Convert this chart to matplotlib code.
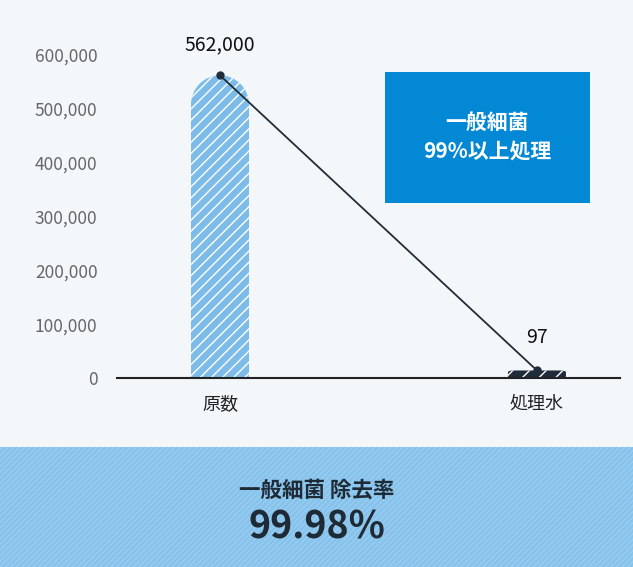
import matplotlib.pyplot as plt
from matplotlib.patches import Ellipse, Rectangle, FancyBboxPatch
import numpy as np

plt.rcParams['font.family'] = ['Noto Sans CJK JP', 'DejaVu Sans']
plt.rcParams['hatch.linewidth'] = 1.0

categories = ['原数', '処理水']
values = [562000, 97]
value_labels = ['562,000', '97']
yticks = [0, 100000, 200000, 300000, 400000, 500000, 600000]
ytick_labels = ['0', '100,000', '200,000', '300,000', '400,000', '500,000', '600,000']
box_text = '一般細菌\n99%以上処理'
rate_title = '一般細菌 除去率'
rate_value = '99.98%'

bg = '#f3f7fa'
blue = '#7dbce8'
dark = '#1f2d3a'

fig = plt.figure(figsize=(6.33, 5.67), dpi=100, facecolor=bg)
W, H = 633, 567

ax = fig.add_axes([117 / W, 1 - 378 / H, (620 - 117) / W, (378 - 28) / H])
ax.set_facecolor('none')
ax.set_xlim(-0.325, 1.262)
ax.set_ylim(0, 650000)
for s in ['top', 'right', 'left']:
    ax.spines[s].set_visible(False)
ax.spines['bottom'].set_color('#222222')
ax.spines['bottom'].set_linewidth(1.5)
ax.set_yticks(yticks)
ax.set_yticklabels(ytick_labels, color='#666666', fontsize=12.5)
ax.set_xticks(range(len(categories)))
ax.set_xticklabels(categories, fontsize=13, color='#222222')
ax.tick_params(length=0)
ax.tick_params(axis='y', pad=14)
ax.tick_params(axis='x', pad=12)

bw = 0.183
x = np.arange(len(values))
# first bar with rounded top
cap_h = 29 / 53.8 * 100000
ax.add_patch(Rectangle((x[0] - bw / 2, 0), bw, values[0] - cap_h,
                       facecolor=blue, edgecolor='white', lw=0, hatch='///'))
ax.add_patch(Ellipse((x[0], values[0] - cap_h), bw, cap_h * 2,
                     facecolor=blue, edgecolor='white', lw=0, hatch='///'))

# second bar: too small to see at scale, shown with minimum height
shown = [values[0], max(values[1], 14000)]
ax.add_patch(FancyBboxPatch((x[1] - bw / 2, 0), bw, shown[1],
                            boxstyle='round,pad=0,rounding_size=0.02',
                            mutation_aspect=100000 / 0.6,
                            facecolor=dark, edgecolor='white', lw=0, hatch='//'))

ax.plot(x, shown, color=dark, lw=1.3, marker='o', ms=5, zorder=5)
ax.annotate(value_labels[0], (x[0], shown[0]), xytext=(0, 18), textcoords='offset points',
            ha='center', fontsize=14, color='#111111')
ax.annotate(value_labels[1], (x[1], shown[1]), xytext=(0, 20), textcoords='offset points',
            ha='center', fontsize=14, color='#111111')

# blue box
fig.patches.append(Rectangle((385 / W, 1 - 203 / H), 205 / W, 131 / H,
                             transform=fig.transFigure, facecolor='#0288d4', lw=0))
fig.text(487 / W, 1 - 137 / H, box_text, ha='center', va='center', color='white',
         fontsize=15, fontweight='bold', linespacing=1.45)

# bottom band
fig.patches.append(Rectangle((0, 0), 1, 120 / H, transform=fig.transFigure,
                             facecolor='#86c2eb', edgecolor='#99cdf0', lw=0, hatch='//////'))
fig.text(0.5, 1 - 490 / H, rate_title, ha='center', va='center', color='#1e2a35',
         fontsize=15.5, fontweight='bold')
fig.text(0.5, 1 - 527 / H, rate_value, ha='center', va='center', color='#1e2a35',
         fontsize=27, fontweight='bold')

fig.savefig('out.png', dpi=100, facecolor=bg)
